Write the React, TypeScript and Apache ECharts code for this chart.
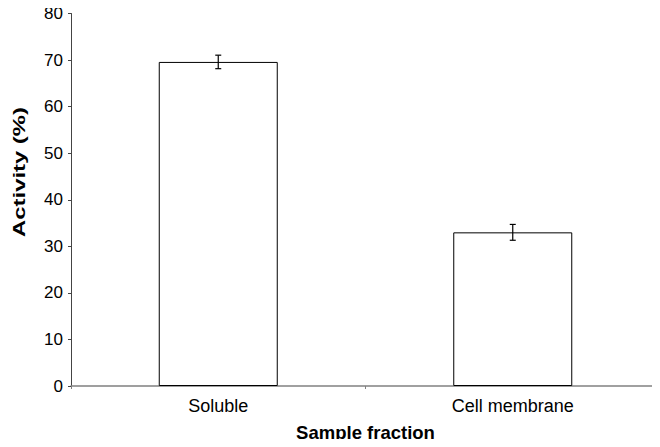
import React, { useEffect, useRef } from "react";
import * as echarts from "echarts";

const categories = ["Soluble", "Cell membrane"];
const activity = [69.6, 33.0];
const errors = [1.45, 1.7];
const yTicks = { min: 0, max: 80, interval: 10 };
const xTitle = "Sample fraction";
const yTitle = "Activity (%)";

export default function App() {
  const ref = useRef<HTMLDivElement>(null);
  useEffect(() => {
    if (!ref.current) return;
    const chart = echarts.init(ref.current, undefined, { renderer: "svg" });
    const font = "'Liberation Sans', Arial, Helvetica, sans-serif";
    const errData = activity.map((v, i) => [i, v - errors[i], v + errors[i]]);
    chart.setOption({
      animation: false,
      backgroundColor: "#ffffff",
      grid: { left: 71, right: -2, top: 13.5, bottom: 60.3, containLabel: false },
      graphic: [
        {
          type: "text",
          x: 19,
          y: 172,
          rotation: Math.PI / 2,
          scaleX: 1.49,
          style: {
            text: yTitle,
            font: `bold 16px ${font}`,
            fill: "#000",
            textAlign: "center",
            textVerticalAlign: "middle",
          },
        },
      ],
      xAxis: {
        type: "category",
        data: categories,
        name: xTitle,
        nameLocation: "middle",
        nameGap: 37,
        nameTextStyle: { fontFamily: font, fontWeight: "bold", fontSize: 18.5, color: "#000" },
        axisLine: { lineStyle: { color: "#808080", width: 1.5 } },
        axisTick: { show: true, length: 3, lineStyle: { color: "#808080" } },
        axisLabel: { fontFamily: font, fontSize: 18, color: "#000", margin: 11 },
        splitLine: { show: false },
      },
      yAxis: {
        type: "value",
        min: yTicks.min,
        max: yTicks.max,
        interval: yTicks.interval,
        axisLine: { show: true, lineStyle: { color: "#444", width: 1 } },
        axisTick: { show: true, length: 3, lineStyle: { color: "#444" } },
        axisLabel: { fontFamily: font, fontSize: 17, color: "#000", margin: 8 },
        splitLine: { show: false },
      },
      series: [
        {
          type: "bar",
          data: activity,
          barWidth: 119,
          itemStyle: { color: "#ffffff", borderColor: "#000000", borderWidth: 1 },
        },
        {
          type: "custom",
          data: errData,
          z: 10,
          renderItem: (params: any, api: any) => {
            const x = api.value(0);
            const lo = api.coord([x, api.value(1)]);
            const hi = api.coord([x, api.value(2)]);
            const hw = 3;
            const style = { stroke: "#000", lineWidth: 1.2 };
            return {
              type: "group",
              children: [
                { type: "line", shape: { x1: lo[0], y1: lo[1], x2: hi[0], y2: hi[1] }, style },
                { type: "line", shape: { x1: lo[0] - hw, y1: lo[1], x2: lo[0] + hw, y2: lo[1] }, style },
                { type: "line", shape: { x1: hi[0] - hw, y1: hi[1], x2: hi[0] + hw, y2: hi[1] }, style },
              ],
            };
          },
        },
      ],
    });
    return () => chart.dispose();
  }, []);
  return <div ref={ref} style={{ width: 660, height: 447, margin: -8 }} />;
}
